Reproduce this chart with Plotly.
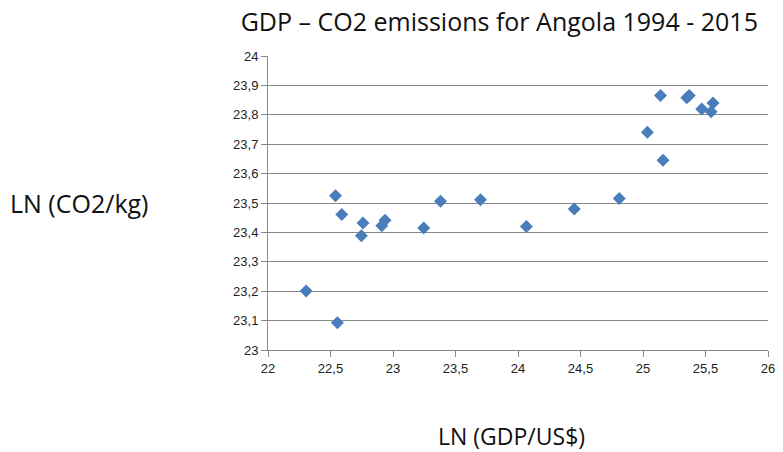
import plotly.graph_objects as go

ln_gdp = [22.305, 22.555, 22.54, 22.59, 22.747, 22.76, 22.91, 22.936, 23.246, 23.38,
          23.70, 24.067, 24.45, 24.81, 25.035, 25.16, 25.14, 25.35, 25.37, 25.47,
          25.545, 25.56]
ln_co2 = [23.201, 23.093, 23.525, 23.461, 23.389, 23.432, 23.423, 23.441, 23.415, 23.506,
          23.511, 23.42, 23.48, 23.515, 23.741, 23.645, 23.866, 23.858, 23.866, 23.82,
          23.81, 23.84]

x_ticks = [22, 22.5, 23, 23.5, 24, 24.5, 25, 25.5, 26]
y_ticks = [23, 23.1, 23.2, 23.3, 23.4, 23.5, 23.6, 23.7, 23.8, 23.9, 24]

fig = go.Figure(go.Scatter(
    x=ln_gdp, y=ln_co2, mode="markers",
    marker=dict(symbol="diamond", size=10, color="#4A7EBB"),
    cliponaxis=False,
))

font_axis = dict(family="Liberation Sans, Arial", size=13, color="#222222")
font_text = "Open Sans, Lato"

fig.update_layout(
    width=783, height=452,
    margin=dict(l=268, r=8, t=56, b=102),
    paper_bgcolor="white", plot_bgcolor="white",
    separators=", ",
    showlegend=False,
    title=dict(text="GDP – CO2 emissions for Angola 1994 - 2015",
               font=dict(family=font_text, size=25, color="#111111"),
               x=0.968, xanchor="right", y=0.951, yanchor="middle"),
    xaxis=dict(range=[22, 26], tickvals=x_ticks, showgrid=False, zeroline=False,
               showline=True, linecolor="#888888", linewidth=1,
               ticks="outside", ticklen=6, tickcolor="#888888",
               tickfont=font_axis),
    yaxis=dict(range=[23, 24], tickvals=y_ticks, showgrid=True, gridcolor="#888888",
               gridwidth=1, zeroline=False,
               showline=True, linecolor="#888888", linewidth=1,
               ticks="outside", ticklen=6, tickcolor="#888888",
               tickfont=font_axis),
    annotations=[
        dict(text="LN (CO2/kg)", xref="paper", yref="paper", x=-0.521, y=0.5,
             xanchor="left", yanchor="middle", showarrow=False,
             font=dict(family=font_text, size=25, color="#111111")),
        dict(text="LN (GDP/US$)", xref="paper", yref="paper", x=0.335, y=-0.2925,
             xanchor="left", yanchor="middle", showarrow=False,
             font=dict(family=font_text, size=23, color="#111111")),
    ],
)

fig.write_html("out.html", config={"displayModeBar": False},
               post_script="document.body.style.margin='0';")
